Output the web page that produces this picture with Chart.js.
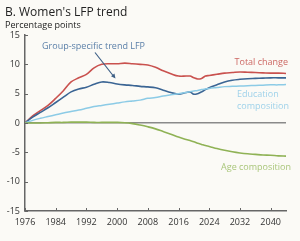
<!DOCTYPE html>
<html>
<head>
<meta charset="utf-8">
<script src="https://cdn.jsdelivr.net/npm/chart.js@4"></script>
<style>
  html, body { margin: 0; padding: 0; background: #fbfaf6; }
  #wrap { width: 300px; height: 241px; }
</style>
</head>
<body>
<div id="wrap"><canvas id="lfpChart"></canvas></div>
<script>
// years (denser where the lines wiggle)
const years = [1976,1978,1980,1982,1984,1986,1988,1990,1992,1994,1996,1998,2000,2002,2004,2006,2008,2010,2012,2014,2016,2018,2019,2020,2021,2022,2023,2024,2026,2028,2030,2032,2034,2036,2038,2040,2042,2044];

const totalChange = [0,1.2,2.1,3.0,4.2,5.5,7.0,7.7,8.3,9.4,10.0,10.1,10.1,10.2,10.1,10.0,9.9,9.5,8.9,8.4,8.0,8.0,8.0,7.7,7.5,7.6,8.0,8.1,8.3,8.5,8.6,8.7,8.65,8.6,8.55,8.5,8.5,8.45];
const groupTrend = [0,1.0,1.8,2.6,3.5,4.4,5.3,5.8,6.1,6.6,7.0,6.9,6.65,6.5,6.4,6.25,6.15,6.0,5.6,5.2,4.9,5.2,5.3,4.9,5.0,5.3,5.7,6.0,6.5,7.0,7.3,7.45,7.55,7.6,7.65,7.7,7.7,7.7];
const educationComp = [0,0.45,0.8,1.1,1.4,1.7,1.95,2.2,2.5,2.8,3.0,3.2,3.4,3.6,3.75,3.9,4.2,4.35,4.6,4.8,5.0,5.2,5.35,5.45,5.55,5.7,5.8,5.9,6.05,6.2,6.25,6.3,6.35,6.4,6.45,6.5,6.5,6.55];
const ageComp = [0,0,0,0.05,0.1,0.1,0.15,0.15,0.15,0.1,0.1,0.1,0.1,0.05,-0.1,-0.35,-0.65,-1.0,-1.45,-1.9,-2.4,-2.8,-3.0,-3.2,-3.45,-3.65,-3.85,-4.0,-4.35,-4.65,-4.9,-5.1,-5.25,-5.35,-5.45,-5.5,-5.6,-5.65];

const xTicks = [1976,1984,1992,2000,2008,2016,2024,2032,2040];
const yTicks = [-15,-10,-5,0,5,10,15];

const FONT = '"Open Sans", "Noto Sans", sans-serif';

function pts(vals) {
    return years.map((y, i) => ({ x: y, y: vals[i] }));
}

// titre, petites graduations, etiquettes et fleche
const decorPlugin = {
    id: 'decor',
    afterDraw(chart) {
        const ctx = chart.ctx;
        const xs = chart.scales.x, ys = chart.scales.y;
        const area = chart.chartArea;
        ctx.save();

        ctx.fillStyle = '#222';
        ctx.textBaseline = 'alphabetic';
        ctx.textAlign = 'left';
        ctx.font = '500 12px ' + FONT;
        ctx.fillText("B. Women's LFP trend", 5, 16);
        ctx.font = '9px ' + FONT;
        ctx.fillText('Percentage points', 5, 28);

        // tick marks pointing inward
        ctx.strokeStyle = '#666';
        ctx.lineWidth = 1;
        yTicks.forEach(v => {
            const py = Math.round(ys.getPixelForValue(v)) + 0.5;
            ctx.beginPath();
            ctx.moveTo(area.left, py);
            ctx.lineTo(area.left + 3, py);
            ctx.stroke();
        });
        xTicks.forEach(v => {
            const px = Math.round(xs.getPixelForValue(v)) + 0.5;
            ctx.beginPath();
            ctx.moveTo(px, area.bottom);
            ctx.lineTo(px, area.bottom - 3);
            ctx.stroke();
        });

        // series labels
        ctx.font = '9px ' + FONT;
        ctx.textBaseline = 'middle';
        ctx.fillStyle = '#cd6864';
        ctx.textAlign = 'right';
        ctx.fillText('Total change', 288, 62.5);
        ctx.fillStyle = '#9fd2ea';
        ctx.textAlign = 'left';
        ctx.fillText('Education', 237, 94.5);
        ctx.fillText('composition', 237, 106);
        ctx.fillStyle = '#a9c67a';
        ctx.textAlign = 'right';
        ctx.fillText('Age composition', 291, 167.5);
        ctx.fillStyle = '#5a7fa8';
        ctx.textAlign = 'left';
        ctx.fillText('Group-specific trend LFP', 42, 46);

        // arrow
        ctx.strokeStyle = '#3d5f86';
        ctx.fillStyle = '#3d5f86';
        ctx.lineWidth = 1.2;
        ctx.beginPath();
        ctx.moveTo(95, 52.5);
        ctx.lineTo(113, 75.5);
        ctx.stroke();
        const ang = Math.atan2(78 - 52.5, 115 - 95);
        ctx.beginPath();
        ctx.moveTo(115.5, 78.5);
        ctx.lineTo(115.5 - 5 * Math.cos(ang - 0.45), 78.5 - 5 * Math.sin(ang - 0.45));
        ctx.lineTo(115.5 - 5 * Math.cos(ang + 0.45), 78.5 - 5 * Math.sin(ang + 0.45));
        ctx.closePath();
        ctx.fill();

        ctx.restore();
    }
};

const ctxLfp = document.getElementById('lfpChart').getContext('2d');
const lfpChart = new Chart(ctxLfp, {
    type: 'line',
    data: {
        datasets: [
            { label: 'Age composition', data: pts(ageComp), borderColor: '#8fb255', borderWidth: 1.6 },
            { label: 'Education composition', data: pts(educationComp), borderColor: '#8ccbe6', borderWidth: 1.5 },
            { label: 'Group-specific trend LFP', data: pts(groupTrend), borderColor: '#3b6594', borderWidth: 1.6 },
            { label: 'Total change', data: pts(totalChange), borderColor: '#c9514e', borderWidth: 1.6 }
        ]
    },
    options: {
        responsive: true,
        maintainAspectRatio: false,
        animation: false,
        layout: { padding: { top: 35, right: 14, bottom: 10, left: 0 } },
        elements: {
            point: { radius: 0 },
            line: { tension: 0.35, fill: false }
        },
        plugins: {
            legend: { display: false },
            tooltip: { enabled: false }
        },
        scales: {
            x: {
                type: 'linear',
                min: 1976,
                max: 2044,
                afterBuildTicks: s => { s.ticks = xTicks.map(v => ({ value: v })); },
                afterFit: s => { s.height = 20; },
                grid: { display: false, drawTicks: false },
                border: { display: true, color: '#666', width: 1.5 },
                ticks: {
                    color: '#333',
                    font: { family: FONT, size: 9 },
                    padding: 6,
                    maxRotation: 0,
                    autoSkip: false,
                    callback: v => String(v)
                }
            },
            y: {
                min: -15,
                max: 15,
                afterBuildTicks: s => { s.ticks = yTicks.map(v => ({ value: v })); },
                afterFit: s => { s.width = 25; },
                grid: {
                    drawTicks: false,
                    color: c => c.tick && c.tick.value === 0 ? '#8a8a8a' : 'rgba(0,0,0,0)',
                    lineWidth: 1.5
                },
                border: { display: true, color: '#666', width: 1.5 },
                ticks: {
                    color: '#333',
                    font: { family: FONT, size: 9 },
                    padding: 5,
                    callback: v => String(v)
                }
            }
        }
    },
    plugins: [decorPlugin]
});
</script>
</body>
</html>
